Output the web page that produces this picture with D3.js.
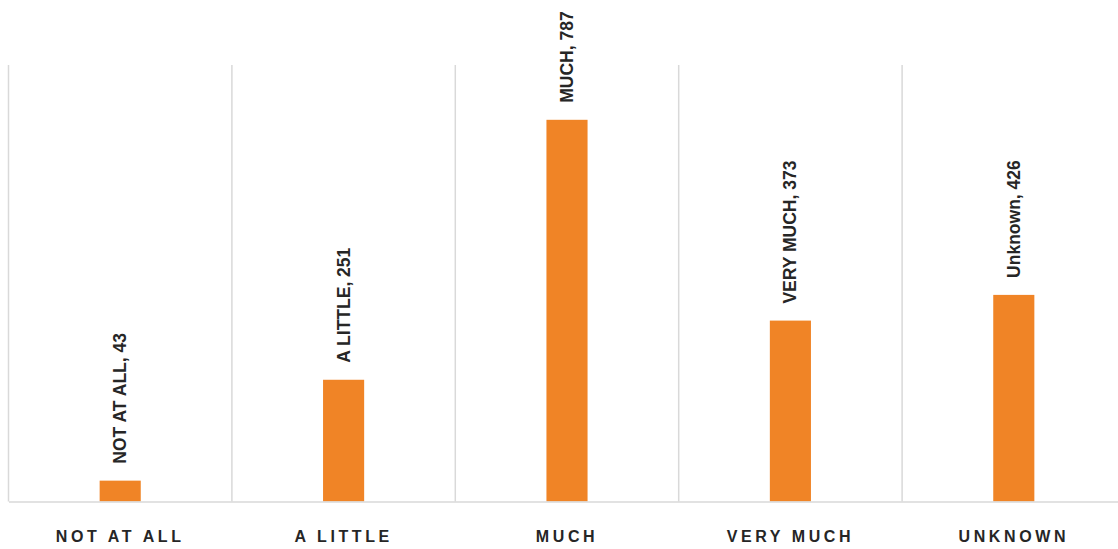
<!DOCTYPE html>
<html><head><meta charset="utf-8">
<script src="https://cdn.jsdelivr.net/npm/d3@7"></script>
<style>body{margin:0;background:#fff;} svg{display:block;}</style>
</head><body>
<svg id="c" width="1118" height="549"></svg>
<script>
const categories = ["NOT AT ALL", "A LITTLE", "MUCH", "VERY MUCH", "UNKNOWN"];
const dataLabels = ["NOT AT ALL", "A LITTLE", "MUCH", "VERY MUCH", "Unknown"];
const values = [43, 251, 787, 373, 426];
const yDomain = [0, 900];

const svg = d3.select("#c");
const mLeft = 8.5, mRight = 1125.5, mTop = 65, mBottom = 501.5;
const x = d3.scaleBand().domain(categories).range([mLeft, mRight]).paddingInner(0).paddingOuter(0);
const y = d3.scaleLinear().domain(yDomain).range([mBottom, mTop]);
const barW = x.bandwidth() * 0.184;

// vertical gridlines at category boundaries
svg.append("g").selectAll("line").data(categories).join("line")
  .attr("x1", d => x(d)).attr("x2", d => x(d))
  .attr("y1", y(yDomain[1])).attr("y2", y(0))
  .attr("stroke", "#d9d9d9").attr("stroke-width", 1.5);

// bars
svg.append("g").selectAll("rect").data(values).join("rect")
  .attr("x", (d, i) => x(categories[i]) + x.bandwidth() / 2 - barW / 2)
  .attr("width", barW)
  .attr("y", d => y(d))
  .attr("height", d => y(0) - y(d))
  .attr("fill", "#f08426");

// baseline
const xAxis = d3.axisBottom(x).tickSize(0).tickPadding(24);
const gx = svg.append("g").attr("transform", `translate(0,${y(0)})`).call(xAxis);
gx.select(".domain").attr("stroke", "#d9d9d9").attr("stroke-width", 1.5);
gx.selectAll(".tick text")
  .attr("fill", "#262626")
  .attr("font-family", "'Liberation Sans', Arial, sans-serif")
  .attr("font-weight", "bold")
  .attr("font-size", 16)
  .attr("letter-spacing", "3.6px")
  .attr("dy", "1em");

// data labels
svg.append("g").selectAll("text").data(values).join("text")
  .attr("transform", (d, i) => `translate(${x(categories[i]) + x.bandwidth() / 2 + 6},${y(d) - 17}) rotate(-90)`)
  .attr("text-anchor", "start")
  .attr("fill", "#262626")
  .attr("font-family", "'Liberation Sans', Arial, sans-serif")
  .attr("font-weight", "bold")
  .attr("font-size", 17.5)
  .text((d, i) => `${dataLabels[i]}, ${d}`);
</script>
</body></html>
